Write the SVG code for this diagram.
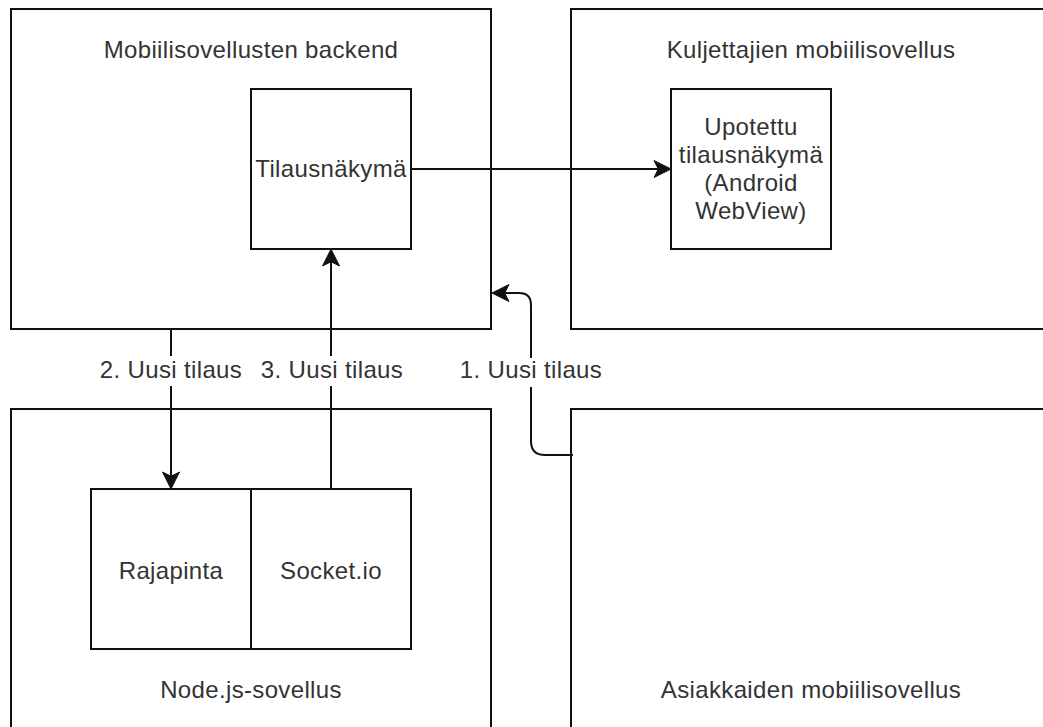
<svg xmlns="http://www.w3.org/2000/svg" width="1043" height="727" viewBox="0 0 1043 727">
  <style>
    .box { fill: #ffffff; stroke: #111111; stroke-width: 2; }
    .lbl { font-family: "Liberation Sans", Arial, sans-serif; font-size: 24px; letter-spacing: 0.35px; fill: #333333; text-anchor: middle; }
    .edge { fill: none; stroke: #111111; stroke-width: 2; }
    .bg { fill: #ffffff; }
  </style>
  <defs>
    <marker id="arrow" markerUnits="userSpaceOnUse" viewBox="-5 -9 19 18" refX="0" refY="0" markerWidth="19" markerHeight="18" orient="auto" overflow="visible">
      <path d="M12.75,0 L-4.25,-8.5 L0,0 L-4.25,8.5 Z" fill="#111111" stroke="#111111" stroke-width="1" stroke-linejoin="miter"/>
    </marker>
  </defs>

  <rect x="0" y="0" width="1043" height="727" fill="#ffffff"/>

  <!-- Containers -->
  <g id="backend">
    <rect class="box" x="11" y="9" width="480" height="320"/>
    <text class="lbl" x="251" y="58">Mobiilisovellusten backend</text>
  </g>
  <g id="driver-app">
    <rect class="box" x="571" y="9" width="480" height="320"/>
    <text class="lbl" x="811" y="58">Kuljettajien mobiilisovellus</text>
  </g>
  <g id="nodejs-app">
    <rect class="box" x="11" y="409" width="480" height="320"/>
    <text class="lbl" x="251" y="698">Node.js-sovellus</text>
  </g>
  <g id="customer-app">
    <rect class="box" x="571" y="409" width="480" height="320"/>
    <text class="lbl" x="811" y="698">Asiakkaiden mobiilisovellus</text>
  </g>

  <!-- Inner components -->
  <g id="order-view">
    <rect class="box" x="251" y="89" width="160" height="160"/>
    <text class="lbl" x="331" y="177">Tilausnäkymä</text>
  </g>
  <g id="embedded-view">
    <rect class="box" x="671" y="89" width="160" height="160"/>
    <text class="lbl" x="751" y="135">Upotettu</text>
    <text class="lbl" x="751" y="163">tilausnäkymä</text>
    <text class="lbl" x="751" y="191">(Android</text>
    <text class="lbl" x="751" y="219">WebView)</text>
  </g>
  <g id="api">
    <rect class="box" x="91" y="489" width="160" height="160"/>
    <text class="lbl" x="171" y="579">Rajapinta</text>
  </g>
  <g id="socketio">
    <rect class="box" x="251" y="489" width="160" height="160"/>
    <text class="lbl" x="331" y="579">Socket.io</text>
  </g>

  <!-- Connectors -->
  <g id="connectors">
    <path class="edge" d="M411,169 L658.25,169" marker-end="url(#arrow)"/>
    <path class="edge" d="M171,329 L171,476.25" marker-end="url(#arrow)"/>
    <path class="edge" d="M331,489 L331,261.75" marker-end="url(#arrow)"/>
    <path class="edge" d="M573,455 L545,455 Q531,455 531,441 L531,305 Q531,293 519,293 L504.75,293" marker-end="url(#arrow)"/>

    <rect class="bg" x="101" y="356" width="140" height="30"/>
    <text class="lbl" x="171" y="378">2. Uusi tilaus</text>
    <rect class="bg" x="261" y="356" width="142" height="30"/>
    <text class="lbl" x="332" y="378">3. Uusi tilaus</text>
    <rect class="bg" x="461" y="358" width="140" height="29"/>
    <text class="lbl" x="531" y="378">1. Uusi tilaus</text>
  </g>
</svg>
